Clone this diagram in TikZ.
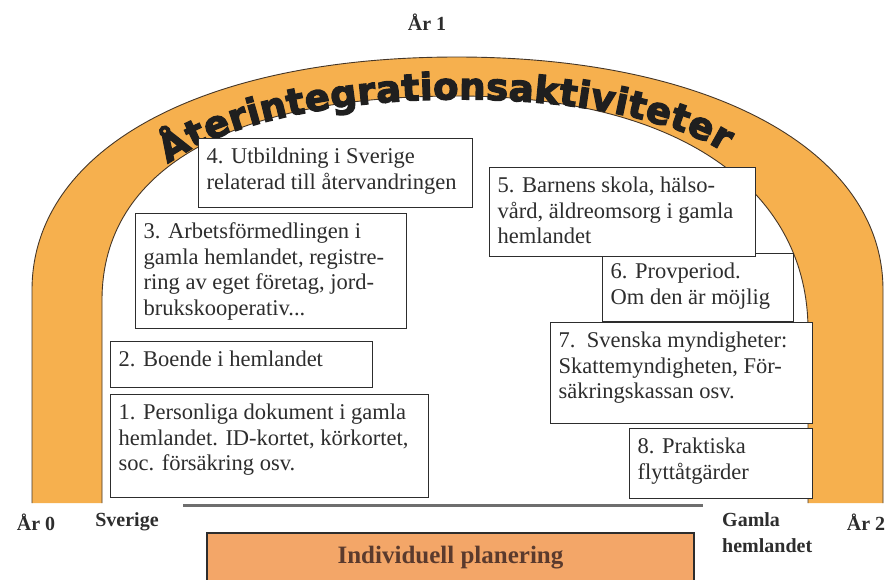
\documentclass[tikz,border=0pt]{standalone}
\usepackage{fontspec}
\setmainfont{Liberation Serif}
\newfontfamily\arcfont[FakeBold=3.5]{DejaVu Sans}
\usetikzlibrary{decorations.text}
\definecolor{archorange}{RGB}{246,176,78}
\definecolor{planorange}{RGB}{243,166,104}
\definecolor{edgec}{RGB}{70,55,40}
\definecolor{inkc}{RGB}{45,45,45}
\definecolor{planink}{RGB}{90,58,45}
\definecolor{linegray}{RGB}{110,110,110}
\newcommand\cardtext[3]{\parbox[t][#2pt][t]{#1pt}{\raggedright\strut#3}}
\begin{document}
\begin{tikzpicture}[x=1pt,y=-1pt,
  card/.style={draw=inkc, line width=1.3pt, fill=white, inner xsep=8pt, inner ysep=7pt,
    anchor=north west, text=inkc, font=\fontsize{22.5}{25.5}\selectfont},
  lab/.style={text=inkc, font=\bfseries\fontsize{20}{26}\selectfont, inner sep=0pt},
  plan/.style={draw=inkc, line width=1.3pt, fill=planorange, minimum width=487pt,
    minimum height=50pt, text=planink, font=\bfseries\fontsize{25}{28}\selectfont},
  archedge/.style={draw=edgec, line width=0.9pt}]
\useasboundingbox (0,0) rectangle (891,579);
\fill[white] (0,0) rectangle (891,579);
% arch band
\fill[archorange] (32,503) -- (32,290) .. controls (32,150) and (200,57) .. (457,57)
  .. controls (710,57) and (883,150) .. (883,290) -- (883,503) -- (808,503) -- (808,330)
  .. controls (808,190) and (680,96) .. (457,96) .. controls (230,96) and (102,170) .. (102,300)
  -- (102,503) -- cycle;
\draw[archedge] (32,503) -- (32,290) .. controls (32,150) and (200,57) .. (457,57)
  .. controls (710,57) and (883,150) .. (883,290) -- (883,503);
\draw[archedge] (808,503) -- (808,330) .. controls (808,190) and (680,96) .. (457,96)
  .. controls (230,96) and (102,170) .. (102,300) -- (102,503);
% arch title
\coordinate (ta) at (168,164);
\coordinate (tb) at (724,152);
\path[decorate, decoration={text along path, text align={fit to path}, text color=black!88,
  text={|\arcfont\bfseries\fontsize{37}{37}\selectfont|Återintegrationsaktiviteter}}]
  (ta) .. controls (280,82) and (605,78) .. (tb);
% baseline under boxes
\coordinate (gl) at (183,505);
\coordinate (gr) at (703,505);
\draw[linegray, line width=3pt] (gl) -- (gr);
% boxes
\node[card] (b4) at (198,138) {\cardtext{258}{55}{4. Utbildning i Sverige\\relaterad till återvandringen}};
\node[card] (b3) at (135,213) {\cardtext{255}{101}{3. Arbetsförmedlingen i\\gamla hemlandet, registre-\\ring av eget företag, jord-\\brukskooperativ...}};
\node[card] (b2) at (110,341) {\cardtext{246}{32}{2. Boende i hemlandet}};
\node[card] (b1) at (110,394) {\cardtext{302}{89}{1. Personliga dokument i gamla\\hemlandet. ID-kortet, körkortet,\\soc. försäkring osv.}};
\node[card] (b6) at (602,253) {\cardtext{175}{54}{6. Provperiod.\\Om den är möjlig}};
\node[card] (b5) at (489,167) {\cardtext{250}{75}{5. Barnens skola, hälso-\\vård, äldreomsorg i gamla\\hemlandet}};
\node[card] (b7) at (550,322) {\cardtext{246}{87}{7.\ \ Svenska myndigheter:\\Skattemyndigheten, För-\\säkringskassan osv.}};
\node[card] (b8) at (629,428) {\cardtext{167}{56}{8. Praktiska\\flyttåtgärder}};
% labels
\node[lab] (y1) at (427,22) {År 1};
\node[lab] (y0) at (36,522) {År 0};
\node[lab] (sv) at (127,522) {Sverige};
\node[lab, align=left, anchor=north west] (gh) at (722,512) {Gamla\\hemlandet};
\node[lab] (y2) at (866,522) {År 2};
% planning box
\node[plan] (plan) at (450.5,558) {Individuell planering};
\end{tikzpicture}
\end{document}
